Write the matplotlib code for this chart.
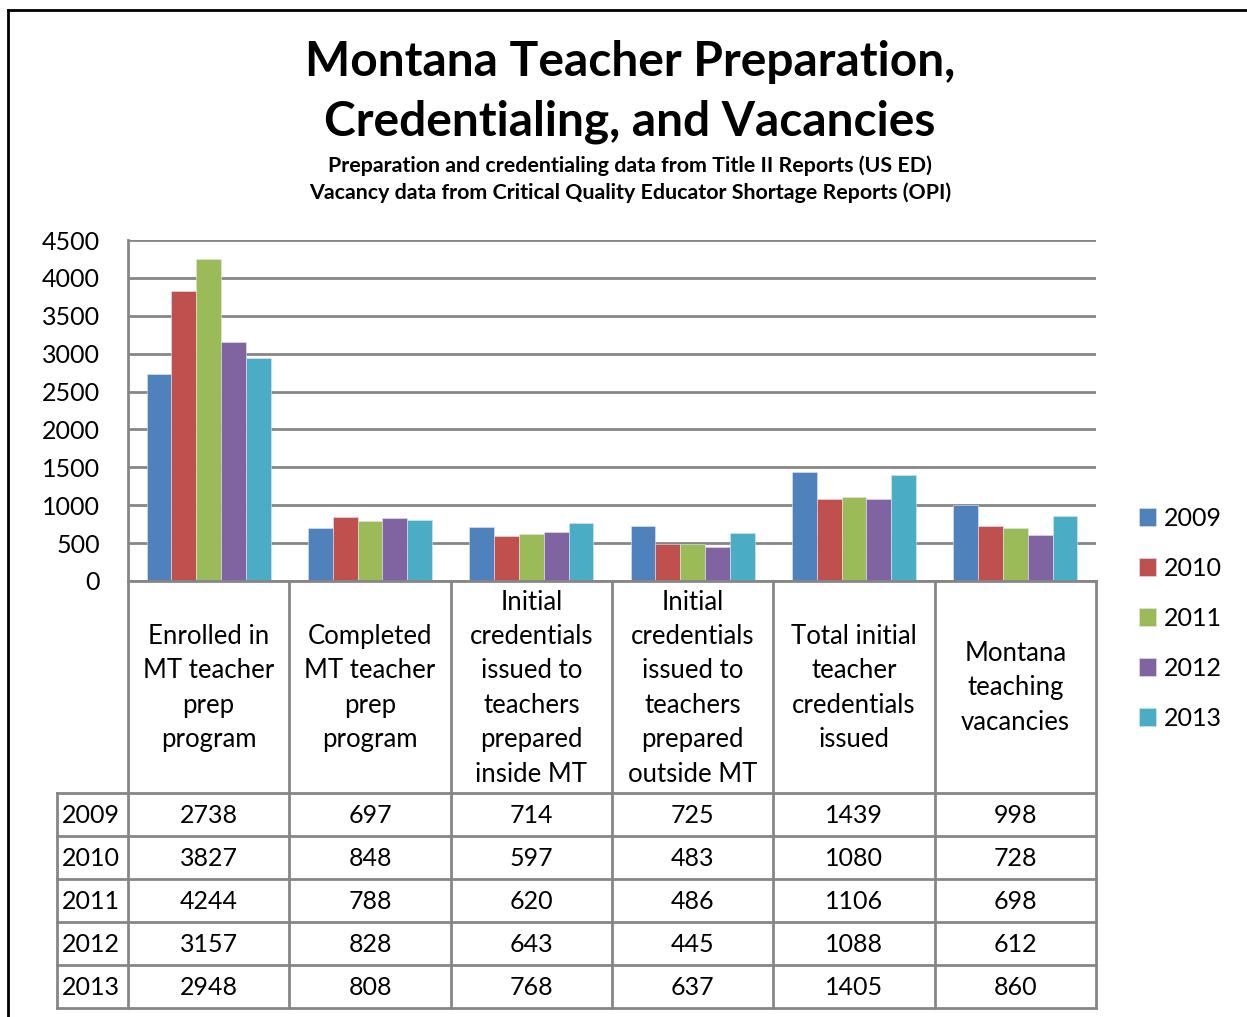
import matplotlib
matplotlib.use("Agg")
import matplotlib.pyplot as plt
import numpy as np

categories = [
    "Enrolled in\nMT teacher\nprep\nprogram",
    "Completed\nMT teacher\nprep\nprogram",
    "Initial\ncredentials\nissued to\nteachers\nprepared\ninside MT",
    "Initial\ncredentials\nissued to\nteachers\nprepared\noutside MT",
    "Total initial\nteacher\ncredentials\nissued",
    "Montana\nteaching\nvacancies",
]
years = ["2009", "2010", "2011", "2012", "2013"]
v2009 = [2738, 697, 714, 725, 1439, 998]
v2010 = [3827, 848, 597, 483, 1080, 728]
v2011 = [4244, 788, 620, 486, 1106, 698]
v2012 = [3157, 828, 643, 445, 1088, 612]
v2013 = [2948, 808, 768, 637, 1405, 860]
series = [v2009, v2010, v2011, v2012, v2013]
colors = ["#4F81BD", "#C0504D", "#9BBB59", "#8064A2", "#4BACC6"]
yticks = [0, 500, 1000, 1500, 2000, 2500, 3000, 3500, 4000, 4500]

FONT = "Lato"
W, H = 1247, 1017
fig = plt.figure(figsize=(W / 100, H / 100), dpi=100)

def fx(px):
    return px / W

def fy(py):
    return 1 - py / H

GRID = "#868686"

# plot area
ax_l, ax_r, ax_t, ax_b = 128, 1096, 240, 581
ax = fig.add_axes([fx(ax_l), fy(ax_b), fx(ax_r - ax_l), (ax_b - ax_t) / H])
n = len(categories)
bw = 0.154
x = np.arange(n) + 0.5
for k, (vals, c) in enumerate(zip(series, colors)):
    ax.bar(x + (k - 2) * bw, vals, width=bw, color=c, edgecolor="#dfe6f0",
           linewidth=0.4, label=years[k], zorder=3)
ax.set_xlim(0, n)
ax.set_ylim(0, 4500)
ax.set_yticks(yticks)
ax.set_yticklabels([str(t) for t in yticks], fontsize=18, family=FONT)
ax.tick_params(axis="y", length=0, pad=20)
ax.set_xticks([])
for t in yticks:
    ax.axhline(t, color=GRID, lw=2, zorder=1)
for s in ["top", "right", "bottom"]:
    ax.spines[s].set_visible(False)
ax.spines["left"].set_color(GRID)
ax.spines["left"].set_linewidth(2)

# overlay for table & frame
ov = fig.add_axes([0, 0, 1, 1], zorder=5)
ov.set_xlim(0, W)
ov.set_ylim(H, 0)
ov.axis("off")
ov.patch.set_alpha(0)

# outer frame
ov.plot([8, 8], [10, H + 5], color="black", lw=2)
ov.plot([8, W + 5], [10, 10], color="black", lw=2)

col_edges = np.linspace(ax_l, ax_r, n + 1)
row_top = 793
row_h = 43.0
nrows = len(years)
row_edges = [row_top + i * row_h for i in range(nrows + 1)]
lab_l = 57

# header verticals
for xe in col_edges:
    ov.plot([xe, xe], [ax_b, row_edges[-1]], color=GRID, lw=2)
ov.plot([ax_l, ax_r], [ax_b, ax_b], color=GRID, lw=2)
for ye in row_edges:
    ov.plot([lab_l, ax_r], [ye, ye], color=GRID, lw=2)
ov.plot([lab_l, lab_l], [row_top, row_edges[-1]], color=GRID, lw=2)

# header texts
for i, lab in enumerate(categories):
    cx = (col_edges[i] + col_edges[i + 1]) / 2
    ov.text(cx, 688, lab, ha="center", va="center", fontsize=18.5, family=FONT,
            linespacing=1.47)

# row labels and values
for r, (yr, vals) in enumerate(zip(years, series)):
    cy = (row_edges[r] + row_edges[r + 1]) / 2 + 1
    ov.text(lab_l + 5, cy, yr, ha="left", va="center", fontsize=18, family=FONT)
    for i, v in enumerate(vals):
        cx = (col_edges[i] + col_edges[i + 1]) / 2
        ov.text(cx, cy, str(v), ha="center", va="center", fontsize=18, family=FONT)

# title
ov.text(630, 62, "Montana Teacher Preparation,", ha="center", va="center",
        fontsize=34.5, fontweight="bold", family=FONT)
ov.text(630, 122, "Credentialing, and Vacancies", ha="center", va="center",
        fontsize=34.5, fontweight="bold", family=FONT)
ov.text(630, 166, "Preparation and credentialing data from Title II Reports (US ED)",
        ha="center", va="center", fontsize=15.4, fontweight="bold", family=FONT)
ov.text(630, 193, "Vacancy data from Critical Quality Educator Shortage Reports (OPI)",
        ha="center", va="center", fontsize=15.4, fontweight="bold", family=FONT)

# legend
handles, labels = ax.get_legend_handles_labels()
leg = fig.legend(handles, labels, loc="upper left",
                 bbox_to_anchor=(fx(1116), fy(484)), frameon=False,
                 prop={"family": FONT, "size": 18}, handlelength=0.7,
                 handleheight=0.7, handletextpad=0.3, labelspacing=1.08)

fig.savefig("out.png", dpi=100, facecolor="white")
